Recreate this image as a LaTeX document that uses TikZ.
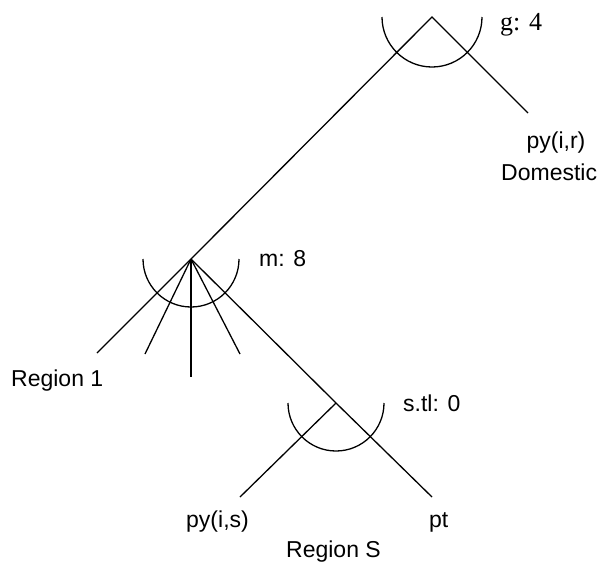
\documentclass[tikz,border=0pt]{standalone}
\usepackage{fontspec}
\setmainfont{Liberation Sans}
\newfontfamily\serifface{Liberation Serif}
\begin{document}
\begin{tikzpicture}[x=1pt,y=-1pt,
  branch/.style={line width=1.3pt},
  nestarc/.style={line width=1.3pt},
  lbl/.style={inner sep=0pt,font=\fontsize{23}{27}\selectfont},
  serlbl/.style={inner sep=0pt,font=\serifface\fontsize{26}{30}\selectfont}]
\useasboundingbox (0,0) rectangle (604,565);

% nest apexes
\coordinate (g) at (432,17);
\coordinate (m) at (191,259);
\coordinate (stl) at (336,403);

% leaf ends
\coordinate (pyr) at (528,113);
\coordinate (r1) at (97,353);
\coordinate (f1) at (145,354);
\coordinate (f2) at (191,377);
\coordinate (f3) at (240,354);
\coordinate (pys) at (240,497);
\coordinate (pt) at (432,497);

% branches
\draw[branch] (m) -- (g) -- (pyr);
\draw[branch] (r1) -- (m);
\draw[branch] (m) -- (f1);
\draw[branch] (m) -- (f2);
\draw[branch] (m) -- (f3);
\draw[branch] (m) -- (stl) -- (pt);
\draw[branch] (stl) -- (pys);

% nesting arcs (lower half circles; y axis points down)
\draw[nestarc] ([xshift=-50pt]g) arc[start angle=180,end angle=0,radius=50];
\draw[nestarc] ([xshift=-48pt]m) arc[start angle=180,end angle=0,radius=48];
\draw[nestarc] ([xshift=-48pt]stl) arc[start angle=180,end angle=0,radius=48];

% labels
\node[serlbl,anchor=base west] (lg) at (500,30) {g: 4};
\node[lbl,anchor=base west] (lm) at (259,266) {m: 8};
\node[lbl,anchor=base west] (ls) at (403,411) {s.tl: 0};
\node[lbl,anchor=base] (lpyr) at (556,148) {py(i,r)};
\node[lbl,anchor=base west] (ldom) at (501,180) {Domestic};
\node[lbl,anchor=base west] (lr1) at (11,386) {Region 1};
\node[lbl,anchor=base west] (lpys) at (186,527) {py(i,s)};
\node[lbl,anchor=base west] (lpt) at (429,527) {pt};
\node[lbl,anchor=base west] (lrs) at (286,557) {Region S};
\end{tikzpicture}
\end{document}
